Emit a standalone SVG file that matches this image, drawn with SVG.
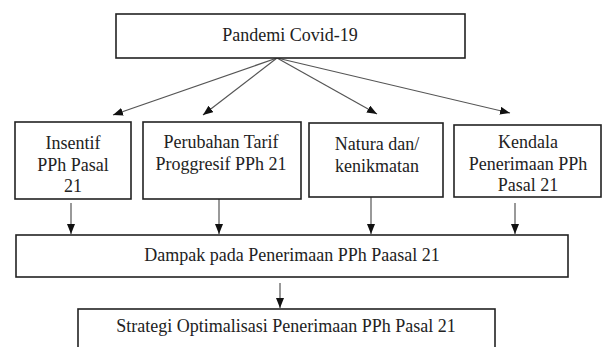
<svg xmlns="http://www.w3.org/2000/svg" width="606" height="347" viewBox="0 0 606 347">
<style>
.box{fill:#fff;stroke:#222;stroke-width:1.6}
.t{font-family:"Liberation Serif","Times New Roman",serif;font-size:18px;fill:#222;text-anchor:middle}
.c{stroke:#555;stroke-width:1.2;fill:none;marker-end:url(#ah)}
</style>
<defs>
<marker id="ah" markerUnits="userSpaceOnUse" markerWidth="10" markerHeight="8" refX="10" refY="4" orient="auto">
<path d="M0,0 L10,4 L0,8 z" fill="#111"/>
</marker>
</defs>
<rect width="606" height="347" fill="#fff"/>
<g id="connectors">
<line class="c" x1="277" y1="58" x2="113" y2="115"/>
<line class="c" x1="277" y1="58" x2="203" y2="115"/>
<line class="c" x1="277" y1="58" x2="377" y2="114"/>
<line class="c" x1="277" y1="58" x2="510" y2="113"/>
<line class="c" x1="71" y1="203" x2="71" y2="234"/>
<line class="c" x1="219" y1="199" x2="219" y2="234"/>
<line class="c" x1="371" y1="197" x2="371" y2="234"/>
<line class="c" x1="515" y1="203" x2="515" y2="234"/>
<line class="c" x1="280" y1="283" x2="280" y2="308"/>
</g>
<g id="pandemi">
<rect class="box" x="116" y="14" width="349" height="44"/>
<text class="t" x="290" y="41">Pandemi Covid-19</text>
</g>
<g id="insentif">
<rect class="box" x="15" y="122" width="116" height="77"/>
<text class="t" x="73" y="149">Insentif</text>
<text class="t" x="73" y="171">PPh Pasal</text>
<text class="t" x="73" y="192">21</text>
</g>
<g id="perubahan">
<rect class="box" x="143" y="122" width="158" height="77"/>
<text class="t" x="221" y="148">Perubahan Tarif</text>
<text class="t" x="221" y="170">Proggresif PPh 21</text>
</g>
<g id="natura">
<rect class="box" x="309" y="123" width="134" height="74"/>
<text class="t" x="377" y="150">Natura dan/</text>
<text class="t" x="377" y="172">kenikmatan</text>
</g>
<g id="kendala">
<rect class="box" x="454" y="125" width="147" height="72"/>
<text class="t" x="528" y="148">Kendala</text>
<text class="t" x="528" y="170">Penerimaan PPh</text>
<text class="t" x="528" y="191">Pasal 21</text>
</g>
<g id="dampak">
<rect class="box" x="16" y="235" width="552" height="42"/>
<text class="t" x="292" y="261">Dampak pada Penerimaan PPh Paasal 21</text>
</g>
<g id="strategi">
<rect class="box" x="78" y="309" width="417" height="50"/>
<text class="t" x="286" y="332">Strategi Optimalisasi Penerimaan PPh Pasal 21</text>
</g>
</svg>
